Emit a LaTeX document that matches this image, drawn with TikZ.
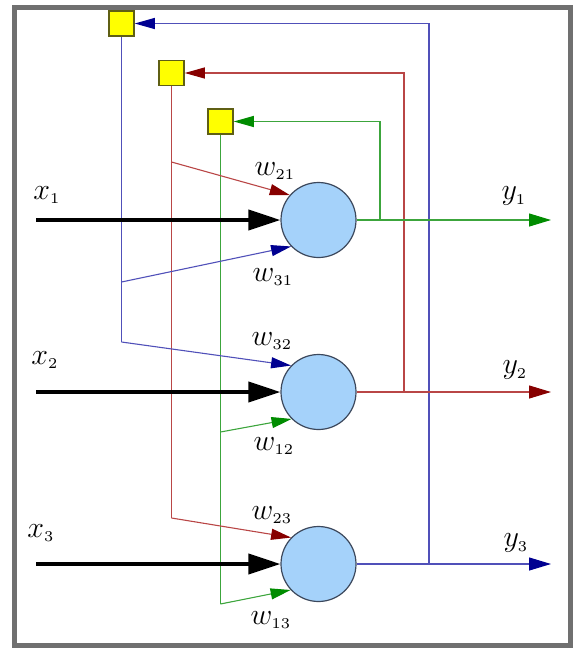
\documentclass[tikz,border=0pt]{standalone}
\usepackage{graphicx}
\usetikzlibrary{arrows.meta}
\definecolor{blL}{RGB}{80,80,185}
\definecolor{blH}{RGB}{0,0,145}
\definecolor{rdL}{RGB}{185,70,70}
\definecolor{rdH}{RGB}{135,0,0}
\definecolor{grL}{RGB}{60,165,60}
\definecolor{grH}{RGB}{0,140,0}
\definecolor{cfill}{RGB}{165,210,250}
\definecolor{cdraw}{RGB}{60,72,92}
\definecolor{sfill}{RGB}{255,255,0}
\definecolor{sdraw}{RGB}{95,95,20}
\definecolor{frame}{RGB}{112,112,112}
\newcommand\wlab[2]{\scalebox{2.5}{\fontsize{12pt}{14pt}\selectfont$#1_{\scriptscriptstyle #2}$}}
\tikzset{
  neuron/.style={circle,draw=cdraw,fill=cfill,line width=1.2pt,minimum size=75pt,inner sep=0pt},
  delay/.style={rectangle,draw=sdraw,fill=sfill,line width=1.5pt,minimum size=25pt,inner sep=0pt},
  lab/.style={inner sep=0pt},
  wtip/.style={-{Triangle[length=20pt,width=11pt,color=#1]}},
  otip/.style={-{Triangle[length=22pt,width=13pt,color=#1]}},
  bl/.style={draw=blL,line width=1.1pt},
  blA/.style={bl,wtip=blH},
  rd/.style={draw=rdL,line width=1.1pt},
  rdA/.style={rd,wtip=rdH},
  gr/.style={draw=grL,line width=1.1pt},
  grA/.style={gr,wtip=grH},
  inarrow/.style={draw=black,line width=4pt,-{Triangle[length=32pt,width=20pt]}},
}
\begin{document}
\begin{tikzpicture}[x=1pt,y=-1pt]
\useasboundingbox (0,0) rectangle (582,657);
\draw[frame,line width=5pt] (14,7) rectangle (570.5,645.5);

% neurons and delays
\node[neuron] (n1) at (318.5,220) {};
\node[neuron] (n2) at (318.5,392) {};
\node[neuron] (n3) at (318.5,564) {};
\node[delay] (s1) at (121.5,23.5) {};
\node[delay] (s2) at (171.5,73) {};
\node[delay] (s3) at (220.5,121.5) {};

% coordinates
\coordinate (o1) at (551,220);
\coordinate (o2) at (551,392);
\coordinate (o3) at (551,564);
\coordinate (f1) at (380,220);
\coordinate (f2) at (404,392);
\coordinate (f3) at (429,564);
\coordinate (d3) at (121.5,342);
\coordinate (e3) at (121.5,282);
\coordinate (d2) at (171.5,518);
\coordinate (e2) at (171.5,162);
\coordinate (d1) at (220.5,604);
\coordinate (e1) at (220.5,432);
\coordinate (i1) at (36,220);
\coordinate (i2) at (36,392);
\coordinate (i3) at (36,564);

% feedback loops
\draw[bl] (s1.south) -- (d3);
\draw[rd] (s2.south) -- (d2);
\draw[gr] (s3.south) -- (d1);
\draw[blA] (f3) |- (s1.east);
\draw[rdA] (f2) |- (s2.east);
\draw[grA] (f1) |- (s3.east);

% weighted connections
\draw[blA] (e3) -- (n1.224);
\draw[blA] (d3) -- (n2.136);
\draw[rdA] (e2) -- (n1.139);
\draw[rdA] (d2) -- (n3.136);
\draw[grA] (e1) -- (n2.225);
\draw[grA] (d1) -- (n3.223);

% outputs
\draw[gr,otip=grH] (n1.east) -- (o1);
\draw[rd,otip=rdH] (n2.east) -- (o2);
\draw[bl,otip=blH] (n3.east) -- (o3);

% inputs
\draw[inarrow] (i1) -- (n1.west);
\draw[inarrow] (i2) -- (n2.west);
\draw[inarrow] (i3) -- (n3.west);

% labels
\node[lab] (lx1) at (47,195) {\wlab{x}{1}};
\node[lab] (lx2) at (45,360) {\wlab{x}{2}};
\node[lab] (lx3) at (41,533) {\wlab{x}{3}};
\node[lab] (ly1) at (514,196) {\wlab{y}{1}};
\node[lab] (ly2) at (515,370) {\wlab{y}{2}};
\node[lab] (ly3) at (516,543) {\wlab{y}{3}};
\node[lab] (w21) at (275,171) {\wlab{w}{21}};
\node[lab] (w31) at (273,277) {\wlab{w}{31}};
\node[lab] (w32) at (272,341) {\wlab{w}{32}};
\node[lab] (w12) at (274,446) {\wlab{w}{12}};
\node[lab] (w23) at (272,515) {\wlab{w}{23}};
\node[lab] (w13) at (271,620) {\wlab{w}{13}};
\end{tikzpicture}
\end{document}
